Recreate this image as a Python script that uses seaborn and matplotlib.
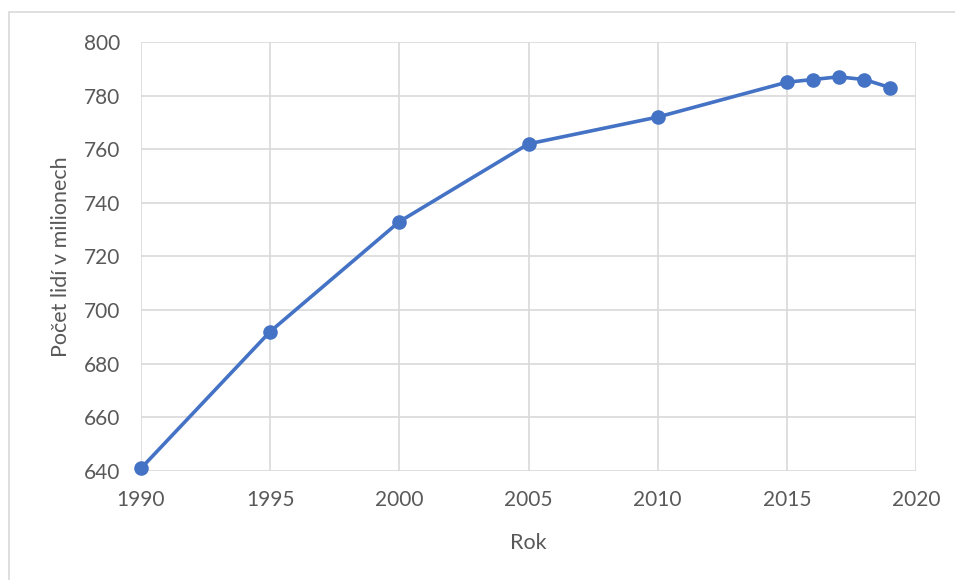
import matplotlib
matplotlib.use("Agg")
import matplotlib.pyplot as plt
import seaborn as sns
import pandas as pd
from matplotlib.patches import Rectangle

# Population (millions) by year
years = [1990, 1995, 2000, 2005, 2010, 2015, 2016, 2017, 2018, 2019]
population = [641, 692, 733, 762, 772, 785, 786, 787, 786, 783]

x_ticks = [1990, 1995, 2000, 2005, 2010, 2015, 2020]
y_ticks = [640, 660, 680, 700, 720, 740, 760, 780, 800]

df = pd.DataFrame({"Rok": years, "Pocet": population})

sns.set_theme(style="white")
plt.rcParams["font.family"] = ["Lato", "DejaVu Sans"]

fig = plt.figure(figsize=(9.55, 5.8), dpi=100)
ax = fig.add_axes([141 / 955, 1 - 471 / 580, (916 - 141) / 955, (471 - 42) / 580])

grid_color = "#d9d9d9"
text_color = "#595959"
line_color = "#4472C4"

sns.lineplot(data=df, x="Rok", y="Pocet", ax=ax, color=line_color, linewidth=2.6,
             marker="o", markersize=10.5, markeredgewidth=0, zorder=3, clip_on=False)

ax.set_xlim(1990, 2020)
ax.set_ylim(640, 800)
ax.set_xticks(x_ticks)
ax.set_yticks(y_ticks)
ax.tick_params(axis="both", length=0, labelsize=15, labelcolor=text_color)
ax.tick_params(axis="x", pad=14)
ax.tick_params(axis="y", pad=15)
ax.grid(True, color=grid_color, linewidth=1.2)
ax.set_axisbelow(True)
for side in ["left", "right", "top", "bottom"]:
    ax.spines[side].set_visible(False)

ax.set_xlabel("Rok", fontsize=15.5, color=text_color, labelpad=16)
ax.set_ylabel("Počet lidí v milionech", fontsize=15.5, color=text_color, labelpad=9)

# Chart frame
fig.patches.append(Rectangle((9 / 955, -0.1), 1.2, (580 - 12) / 580 + 0.1,
                             transform=fig.transFigure, fill=False,
                             edgecolor=grid_color, linewidth=1.2))

fig.savefig("out.png", dpi=100)
